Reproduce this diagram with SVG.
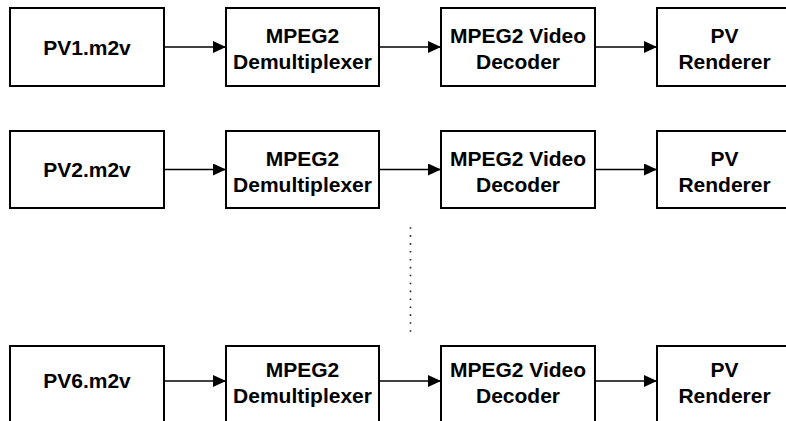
<svg xmlns="http://www.w3.org/2000/svg" width="786" height="421" viewBox="0 0 786 421">
<style>
.box{fill:#fff;stroke:#000;stroke-width:2}
.t{font-family:"Liberation Sans",Arial,sans-serif;font-weight:bold;font-size:21px;fill:#000;text-anchor:middle}
.c{stroke:#000;stroke-width:1.5;fill:none}
.dots{stroke:#222;stroke-width:1.6;stroke-dasharray:1.6 6.32;fill:none}
</style>
<defs>
<marker id="ah" markerWidth="13" markerHeight="12" refX="13" refY="6" orient="auto" markerUnits="userSpaceOnUse">
<path d="M0,0 L13,6 L0,12 Z" fill="#000"/>
</marker>
</defs>
<rect width="786" height="421" fill="#fff"/>
<g id="connectors">
<line class="c" x1="164" y1="47" x2="226" y2="47" marker-end="url(#ah)"/>
<line class="c" x1="379" y1="47" x2="441" y2="47" marker-end="url(#ah)"/>
<line class="c" x1="595" y1="47" x2="657" y2="47" marker-end="url(#ah)"/>
<line class="c" x1="164" y1="169.5" x2="226" y2="169.5" marker-end="url(#ah)"/>
<line class="c" x1="379" y1="169.5" x2="441" y2="169.5" marker-end="url(#ah)"/>
<line class="c" x1="595" y1="169.5" x2="657" y2="169.5" marker-end="url(#ah)"/>
<line class="c" x1="164" y1="381" x2="226" y2="381" marker-end="url(#ah)"/>
<line class="c" x1="379" y1="381" x2="441" y2="381" marker-end="url(#ah)"/>
<line class="c" x1="595" y1="381" x2="657" y2="381" marker-end="url(#ah)"/>
<line class="dots" x1="410.5" y1="227.2" x2="410.5" y2="332"/>
</g>
<g id="pv1">
<rect class="box" x="10" y="8" width="154" height="78"/>
<text class="t" x="87" y="54.5">PV1.m2v</text>
</g>
<g id="demux1">
<rect class="box" x="226" y="8" width="153" height="78"/>
<text class="t" x="302.5" y="43">MPEG2</text>
<text class="t" x="302.5" y="69">Demultiplexer</text>
</g>
<g id="dec1">
<rect class="box" x="441" y="8" width="154" height="78"/>
<text class="t" x="518" y="43">MPEG2 Video</text>
<text class="t" x="518" y="69">Decoder</text>
</g>
<g id="rend1">
<rect class="box" x="657" y="8" width="135" height="78"/>
<text class="t" x="724.5" y="43">PV</text>
<text class="t" x="724.5" y="69">Renderer</text>
</g>
<g id="pv2">
<rect class="box" x="10" y="131" width="154" height="77"/>
<text class="t" x="87" y="177">PV2.m2v</text>
</g>
<g id="demux2">
<rect class="box" x="226" y="131" width="153" height="77"/>
<text class="t" x="302.5" y="166">MPEG2</text>
<text class="t" x="302.5" y="192">Demultiplexer</text>
</g>
<g id="dec2">
<rect class="box" x="441" y="131" width="154" height="77"/>
<text class="t" x="518" y="166">MPEG2 Video</text>
<text class="t" x="518" y="192">Decoder</text>
</g>
<g id="rend2">
<rect class="box" x="657" y="131" width="135" height="77"/>
<text class="t" x="724.5" y="166">PV</text>
<text class="t" x="724.5" y="192">Renderer</text>
</g>
<g id="pv6">
<rect class="box" x="10" y="346" width="154" height="78"/>
<text class="t" x="87" y="388">PV6.m2v</text>
</g>
<g id="demux6">
<rect class="box" x="226" y="346" width="153" height="78"/>
<text class="t" x="302.5" y="377">MPEG2</text>
<text class="t" x="302.5" y="403">Demultiplexer</text>
</g>
<g id="dec6">
<rect class="box" x="441" y="346" width="154" height="78"/>
<text class="t" x="518" y="377">MPEG2 Video</text>
<text class="t" x="518" y="403">Decoder</text>
</g>
<g id="rend6">
<rect class="box" x="657" y="346" width="135" height="78"/>
<text class="t" x="724.5" y="377">PV</text>
<text class="t" x="724.5" y="403">Renderer</text>
</g>
</svg>
